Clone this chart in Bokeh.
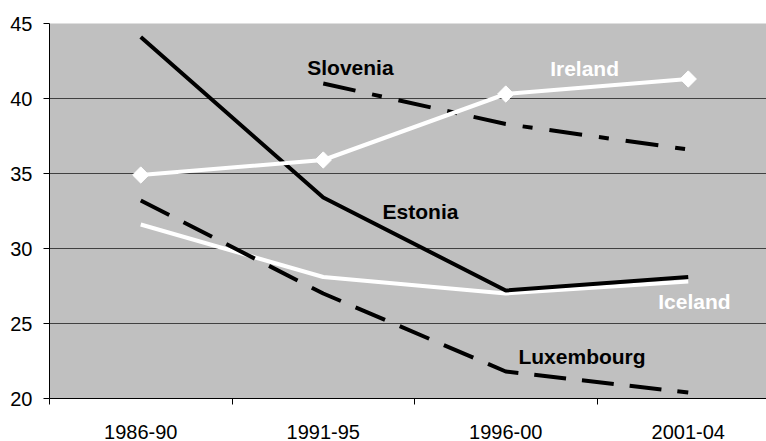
import math
from bokeh.plotting import figure
from bokeh.models import FixedTicker, Range1d, Label
from bokeh.embed import file_html
from bokeh.resources import INLINE

periods = ["1986-90", "1991-95", "1996-00", "2001-04"]
estonia = [44.1, 33.4, 27.2, 28.1]
ireland = [34.9, 35.9, 40.3, 41.3]
slovenia = [float("nan"), 41.0, 38.3, 36.6]
luxembourg = [33.2, 27.0, 21.8, 20.4]
iceland = [31.6, 28.1, 27.0, 27.8]
y_ticks = [20, 25, 30, 35, 40, 45]

xs = [i + 0.5 for i in range(len(periods))]

FONT = "Liberation Sans"

p = figure(width=766, height=441, output_backend="svg", toolbar_location=None,
           x_range=Range1d(0, 717 / 182.5), y_range=Range1d(20, 45),
           min_border_left=49, min_border_right=0, min_border_top=23,
           min_border_bottom=38)
p.background_fill_color = "#C0C0C0"
p.border_fill_color = "white"
p.outline_line_color = None

# x axis
p.xaxis.ticker = FixedTicker(ticks=xs, minor_ticks=list(range(len(periods) + 1)))
p.xaxis.major_label_overrides = {x: lab for x, lab in zip(xs, periods)}
p.xaxis.major_tick_out = 0
p.xaxis.major_tick_in = 0
p.xaxis.minor_tick_out = 6
p.xaxis.minor_tick_in = 0
p.xaxis.minor_tick_line_color = "black"
p.xaxis.axis_line_color = "black"
p.xaxis.major_label_standoff = 20
p.xaxis.major_label_text_font = FONT
p.xaxis.major_label_text_font_size = "20px"
p.xaxis.major_label_text_color = "black"
p.xgrid.grid_line_color = None

# y axis
p.yaxis.ticker = FixedTicker(ticks=y_ticks, minor_ticks=[])
p.yaxis.major_tick_out = 6
p.yaxis.major_tick_in = 0
p.yaxis.major_tick_line_color = "black"
p.yaxis.axis_line_color = "black"
p.yaxis.major_label_standoff = 11
p.yaxis.major_label_text_font = FONT
p.yaxis.major_label_text_font_size = "20px"
p.yaxis.major_label_text_color = "black"
p.ygrid.ticker = FixedTicker(ticks=y_ticks)
p.ygrid.grid_line_color = "#404040"
p.ygrid.grid_line_width = 1

# series
p.line(xs, iceland, line_color="white", line_width=4)
p.line(xs, luxembourg, line_color="black", line_width=4, line_dash="32 16")
p.line(xs, estonia, line_color="black", line_width=4)
p.line(xs, slovenia, line_color="black", line_width=4, line_dash="33 17 10 17")
p.line(xs, ireland, line_color="white", line_width=4)
p.scatter(xs, ireland, marker="square", angle=math.pi / 4, size=11.5,
          fill_color="white", line_color="white")

def lab(x, y, text, color):
    p.add_layout(Label(x=x, y=y, text=text, text_color=color,
                       text_font=FONT, text_font_size="21px", text_font_style="bold",
                       text_align="center", text_baseline="middle"))

lab(1.649, 42.07, "Slovenia", "black")
lab(2.932, 41.97, "Ireland", "white")
lab(2.033, 32.49, "Estonia", "black")
lab(3.534, 26.44, "Iceland", "white")
lab(2.918, 22.81, "Luxembourg", "black")

open("out.html", "w").write(file_html(p, INLINE))
